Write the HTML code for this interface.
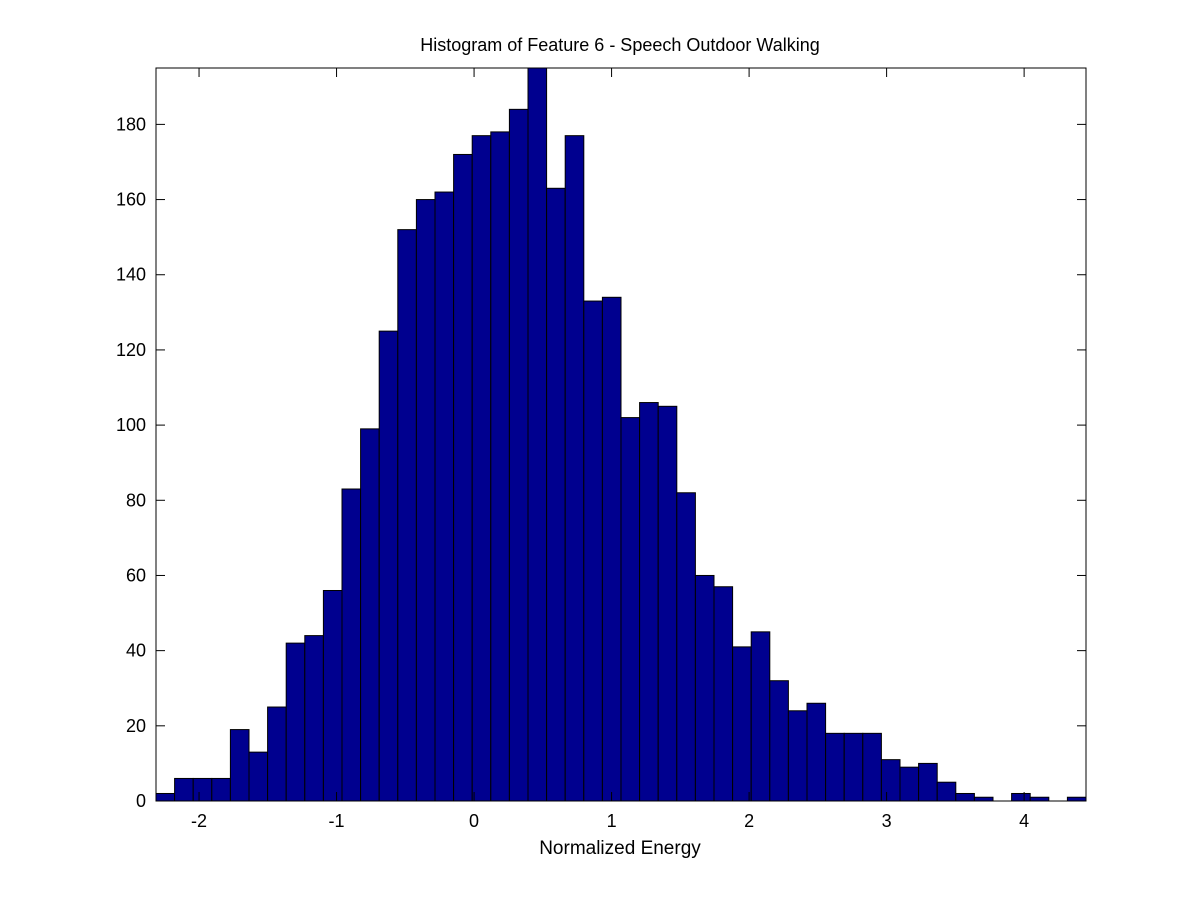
<!DOCTYPE html>
<html><head><meta charset="utf-8"><style>
body{margin:0;background:#fff;}
svg text{font-family:"Liberation Sans",Arial,sans-serif;fill:#000;}
</style></head><body>
<svg id="chart" width="1200" height="900" xmlns="http://www.w3.org/2000/svg">
<rect x="0" y="0" width="1200" height="900" fill="#fff"/>
<text x="620" y="51" font-size="18" text-anchor="middle">Histogram of Feature 6 - Speech Outdoor Walking</text>
<text x="620" y="854" font-size="19" text-anchor="middle">Normalized Energy</text>
<g id="bars"></g>
<g id="axes"></g>
</svg>
<script>
const counts=[2,6,6,6,19,13,25,42,44,56,83,99,125,152,160,162,172,177,178,184,195,163,177,133,134,102,106,105,82,60,57,41,45,32,24,26,18,18,18,11,9,10,5,2,1,0,2,1,0,1];
const xTicks=[-2,-1,0,1,2,3,4];
const yTicks=[0,20,40,60,80,100,120,140,160,180];
const xMin=-2.313,xMax=4.45,yMax=195;
const L=156,R=1086,T=68,B=801;
const sx=v=>L+(v-xMin)/(xMax-xMin)*(R-L);
const sy=v=>B-v/yMax*(B-T);
const NS="http://www.w3.org/2000/svg";
const bars=document.getElementById('bars');
const bw=(xMax-xMin)/counts.length;
counts.forEach((c,i)=>{
  const x0=sx(xMin+i*bw),x1=sx(xMin+(i+1)*bw);
  const r=document.createElementNS(NS,'rect');
  
  
  r.setAttribute('x',x0);r.setAttribute('width',x1-x0);
  const top=Math.max(sy(c),T);
  r.setAttribute('y',top);r.setAttribute('height',B-top);
  r.setAttribute('fill','#00008f');r.setAttribute('stroke','#000');r.setAttribute('stroke-width','1');
  bars.appendChild(r);
});
const axes=document.getElementById('axes');
axes.innerHTML='<rect x="'+L+'" y="'+T+'" width="'+(R-L)+'" height="'+(B-T)+'" fill="none" stroke="#000" stroke-width="1"/>';
const box=axes.firstChild;


function add(tag,attrs,text){const e=document.createElementNS(NS,tag);for(const k in attrs)e.setAttribute(k,attrs[k]);if(text!==undefined)e.textContent=text;axes.appendChild(e);return e;}
xTicks.forEach(v=>{
  const x=sx(v);
  add('line',{x1:x,x2:x,y1:B,y2:B-9,stroke:'#000'});
  add('line',{x1:x,x2:x,y1:T,y2:T+9,stroke:'#000'});
  const t=add('text',{x:x,y:B+26,'font-size':18,'text-anchor':'middle'},String(v));
  
  
});
yTicks.forEach(v=>{
  const y=sy(v);
  add('line',{x1:L,x2:L+9,y1:y,y2:y,stroke:'#000'});
  add('line',{x1:R,x2:R-9,y1:y,y2:y,stroke:'#000'});
  const t=add('text',{x:L-10,y:y+6,'font-size':18,'text-anchor':'end'},String(v));
  
  
});
</script>
</body></html>
